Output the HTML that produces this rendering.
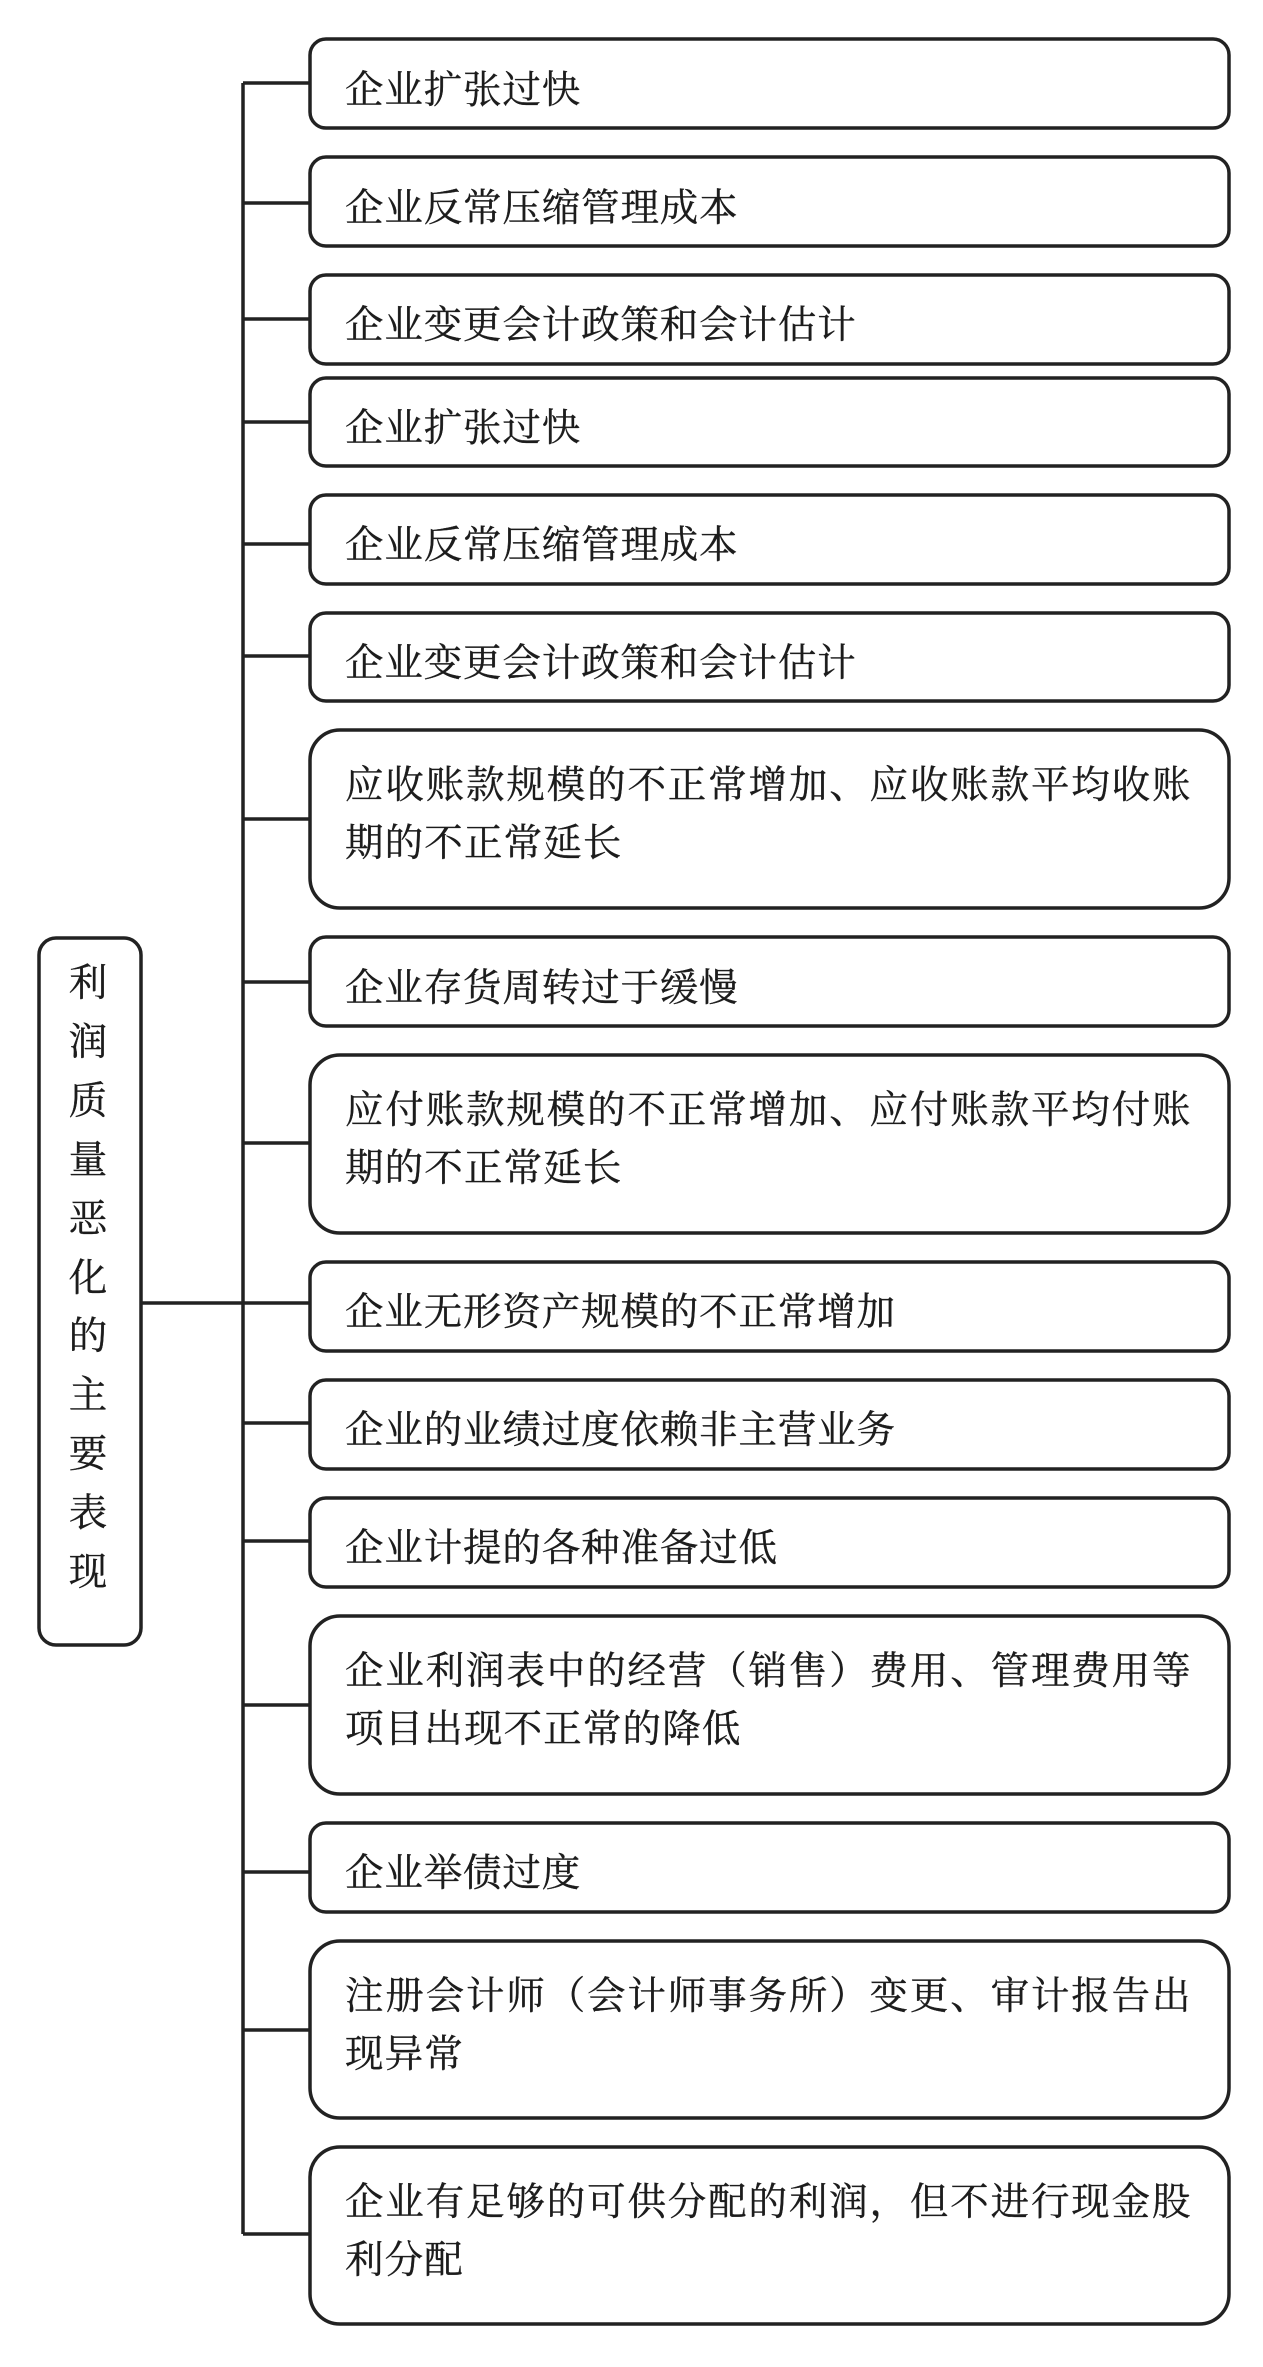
<!DOCTYPE html>
<html lang="zh">
<head>
<meta charset="utf-8">
<style>
html,body{margin:0;padding:0;background:#fff;width:1263px;height:2367px;overflow:hidden}
svg{display:block}
rect,path{fill:none;stroke:#222;stroke-width:3.5}
rect{fill:#fff}
text{font-family:"Liberation Serif","Noto Serif CJK SC",serif;font-size:38.5px;fill:#1c1c1c;stroke:#1c1c1c;stroke-width:.35px}
.a{letter-spacing:.85px}
.b{letter-spacing:1.85px}
.c{letter-spacing:1.15px}
.v{text-anchor:middle}
</style>
</head>
<body>
<svg width="1263" height="2367" viewBox="0 0 1263 2367" xmlns="http://www.w3.org/2000/svg">
<path d="M141 1303H310M243 83V2234M243 83H310M243 203H310M243 319H310M243 422H310M243 544H310M243 656H310M243 819H310M243 982H310M243 1143H310M243 1423H310M243 1541H310M243 1705H310M243 1872H310M243 2030H310M243 2234H310"/>
<rect x="39" y="938" width="102" height="707" rx="17"/>
<rect x="310" y="39" width="919" height="89" rx="16"/>
<rect x="310" y="157" width="919" height="89" rx="16"/>
<rect x="310" y="275" width="919" height="89" rx="16"/>
<rect x="310" y="378" width="919" height="88" rx="16"/>
<rect x="310" y="495" width="919" height="89" rx="16"/>
<rect x="310" y="613" width="919" height="88" rx="16"/>
<rect x="310" y="730" width="919" height="178" rx="30"/>
<rect x="310" y="937" width="919" height="89" rx="16"/>
<rect x="310" y="1055" width="919" height="178" rx="30"/>
<rect x="310" y="1262" width="919" height="89" rx="16"/>
<rect x="310" y="1380" width="919" height="89" rx="16"/>
<rect x="310" y="1498" width="919" height="89" rx="16"/>
<rect x="310" y="1616" width="919" height="178" rx="30"/>
<rect x="310" y="1823" width="919" height="89" rx="16"/>
<rect x="310" y="1941" width="919" height="177" rx="30"/>
<rect x="310" y="2147" width="919" height="177" rx="30"/>

<text class="a" x="345" y="103">企业扩张过快</text>
<text class="a" x="345" y="221">企业反常压缩管理成本</text>
<text class="a" x="345" y="338">企业变更会计政策和会计估计</text>
<text class="a" x="345" y="441">企业扩张过快</text>
<text class="a" x="345" y="558">企业反常压缩管理成本</text>
<text class="a" x="345" y="676">企业变更会计政策和会计估计</text>
<text class="b" x="345" y="798">应收账款规模的不正常增加、应收账款平均收账</text>
<text class="c" x="345" y="856">期的不正常延长</text>
<text class="a" x="345" y="1001">企业存货周转过于缓慢</text>
<text class="b" x="345" y="1123">应付账款规模的不正常增加、应付账款平均付账</text>
<text class="c" x="345" y="1181">期的不正常延长</text>
<text class="a" x="345" y="1325">企业无形资产规模的不正常增加</text>
<text class="a" x="345" y="1443">企业的业绩过度依赖非主营业务</text>
<text class="a" x="345" y="1561">企业计提的各种准备过低</text>
<text class="b" x="345" y="1684">企业利润表中的经营（销售）费用、管理费用等</text>
<text class="c" x="345" y="1742">项目出现不正常的降低</text>
<text class="a" x="345" y="1886">企业举债过度</text>
<text class="b" x="345" y="2009">注册会计师（会计师事务所）变更、审计报告出</text>
<text class="c" x="345" y="2067">现异常</text>
<text class="b" x="345" y="2215">企业有足够的可供分配的利润，但不进行现金股</text>
<text class="c" x="345" y="2273">利分配</text>

<text class="v" x="88" y="996">利</text>
<text class="v" x="88" y="1055">润</text>
<text class="v" x="88" y="1114">质</text>
<text class="v" x="88" y="1173">量</text>
<text class="v" x="88" y="1232">恶</text>
<text class="v" x="88" y="1291">化</text>
<text class="v" x="88" y="1349">的</text>
<text class="v" x="88" y="1408">主</text>
<text class="v" x="88" y="1467">要</text>
<text class="v" x="88" y="1526">表</text>
<text class="v" x="88" y="1585">现</text>
</svg>
</body>
</html>
